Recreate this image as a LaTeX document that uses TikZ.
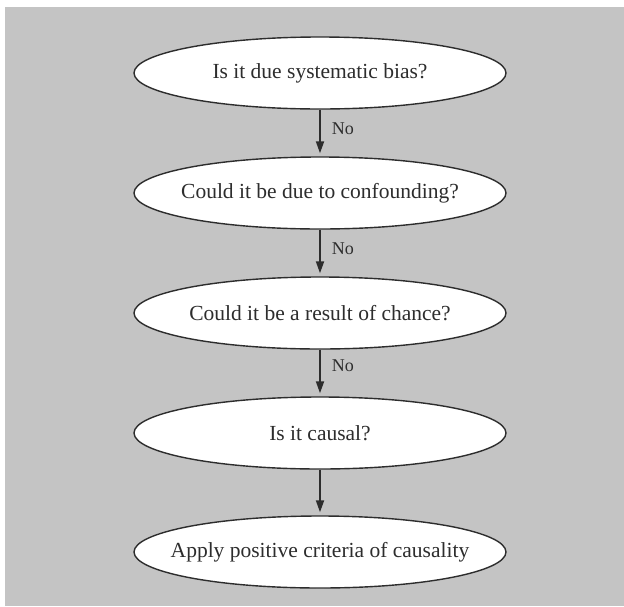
\documentclass[tikz,border=0pt]{standalone}
\usepackage{fontspec}
\setmainfont{Liberation Serif}
\usetikzlibrary{shapes.geometric,arrows.meta}
\definecolor{bggray}{RGB}{196,196,196}
\definecolor{inkc}{RGB}{45,45,45}
\newcommand\ztxt[1]{\makebox[0pt]{#1}}
\tikzset{
  q/.style={ellipse, draw=inkc, line width=1.4pt, fill=white, text=inkc,
    minimum width=372pt, minimum height=72pt, inner sep=0pt,
    font=\fontsize{21.5}{24}\selectfont},
  flow/.style={draw=inkc, line width=1.8pt, -{Triangle[length=12pt,width=8pt]}, shorten >=3pt},
  lbl/.style={font=\fontsize{18}{20}\selectfont, text=inkc, anchor=west, inner sep=0pt}
}
\begin{document}
\begin{tikzpicture}[x=1pt,y=-1pt]
\useasboundingbox (0,0) rectangle (624,606);
\fill[bggray] (5,7) rectangle (624,606);
\node[q] (e1) at (320,73) {\ztxt{Is it due systematic bias?}};
\node[q] (e2) at (320,193) {\ztxt{Could it be due to confounding?}};
\node[q] (e3) at (320,313) {\ztxt{Could it be a result of chance?}};
\node[q] (e4) at (320,433) {\ztxt{Is it causal?}};
\node[q] (e5) at (320,552) {\ztxt{Apply positive criteria of causality}};
\draw[flow] (e1.south) -- (e2.north) node[lbl, pos=0.4, xshift=11pt] {No};
\draw[flow] (e2.south) -- (e3.north) node[lbl, pos=0.4, xshift=11pt] {No};
\draw[flow] (e3.south) -- (e4.north) node[lbl, pos=0.35, xshift=11pt] {No};
\draw[flow] (e4.south) -- (e5.north);
\end{tikzpicture}
\end{document}
